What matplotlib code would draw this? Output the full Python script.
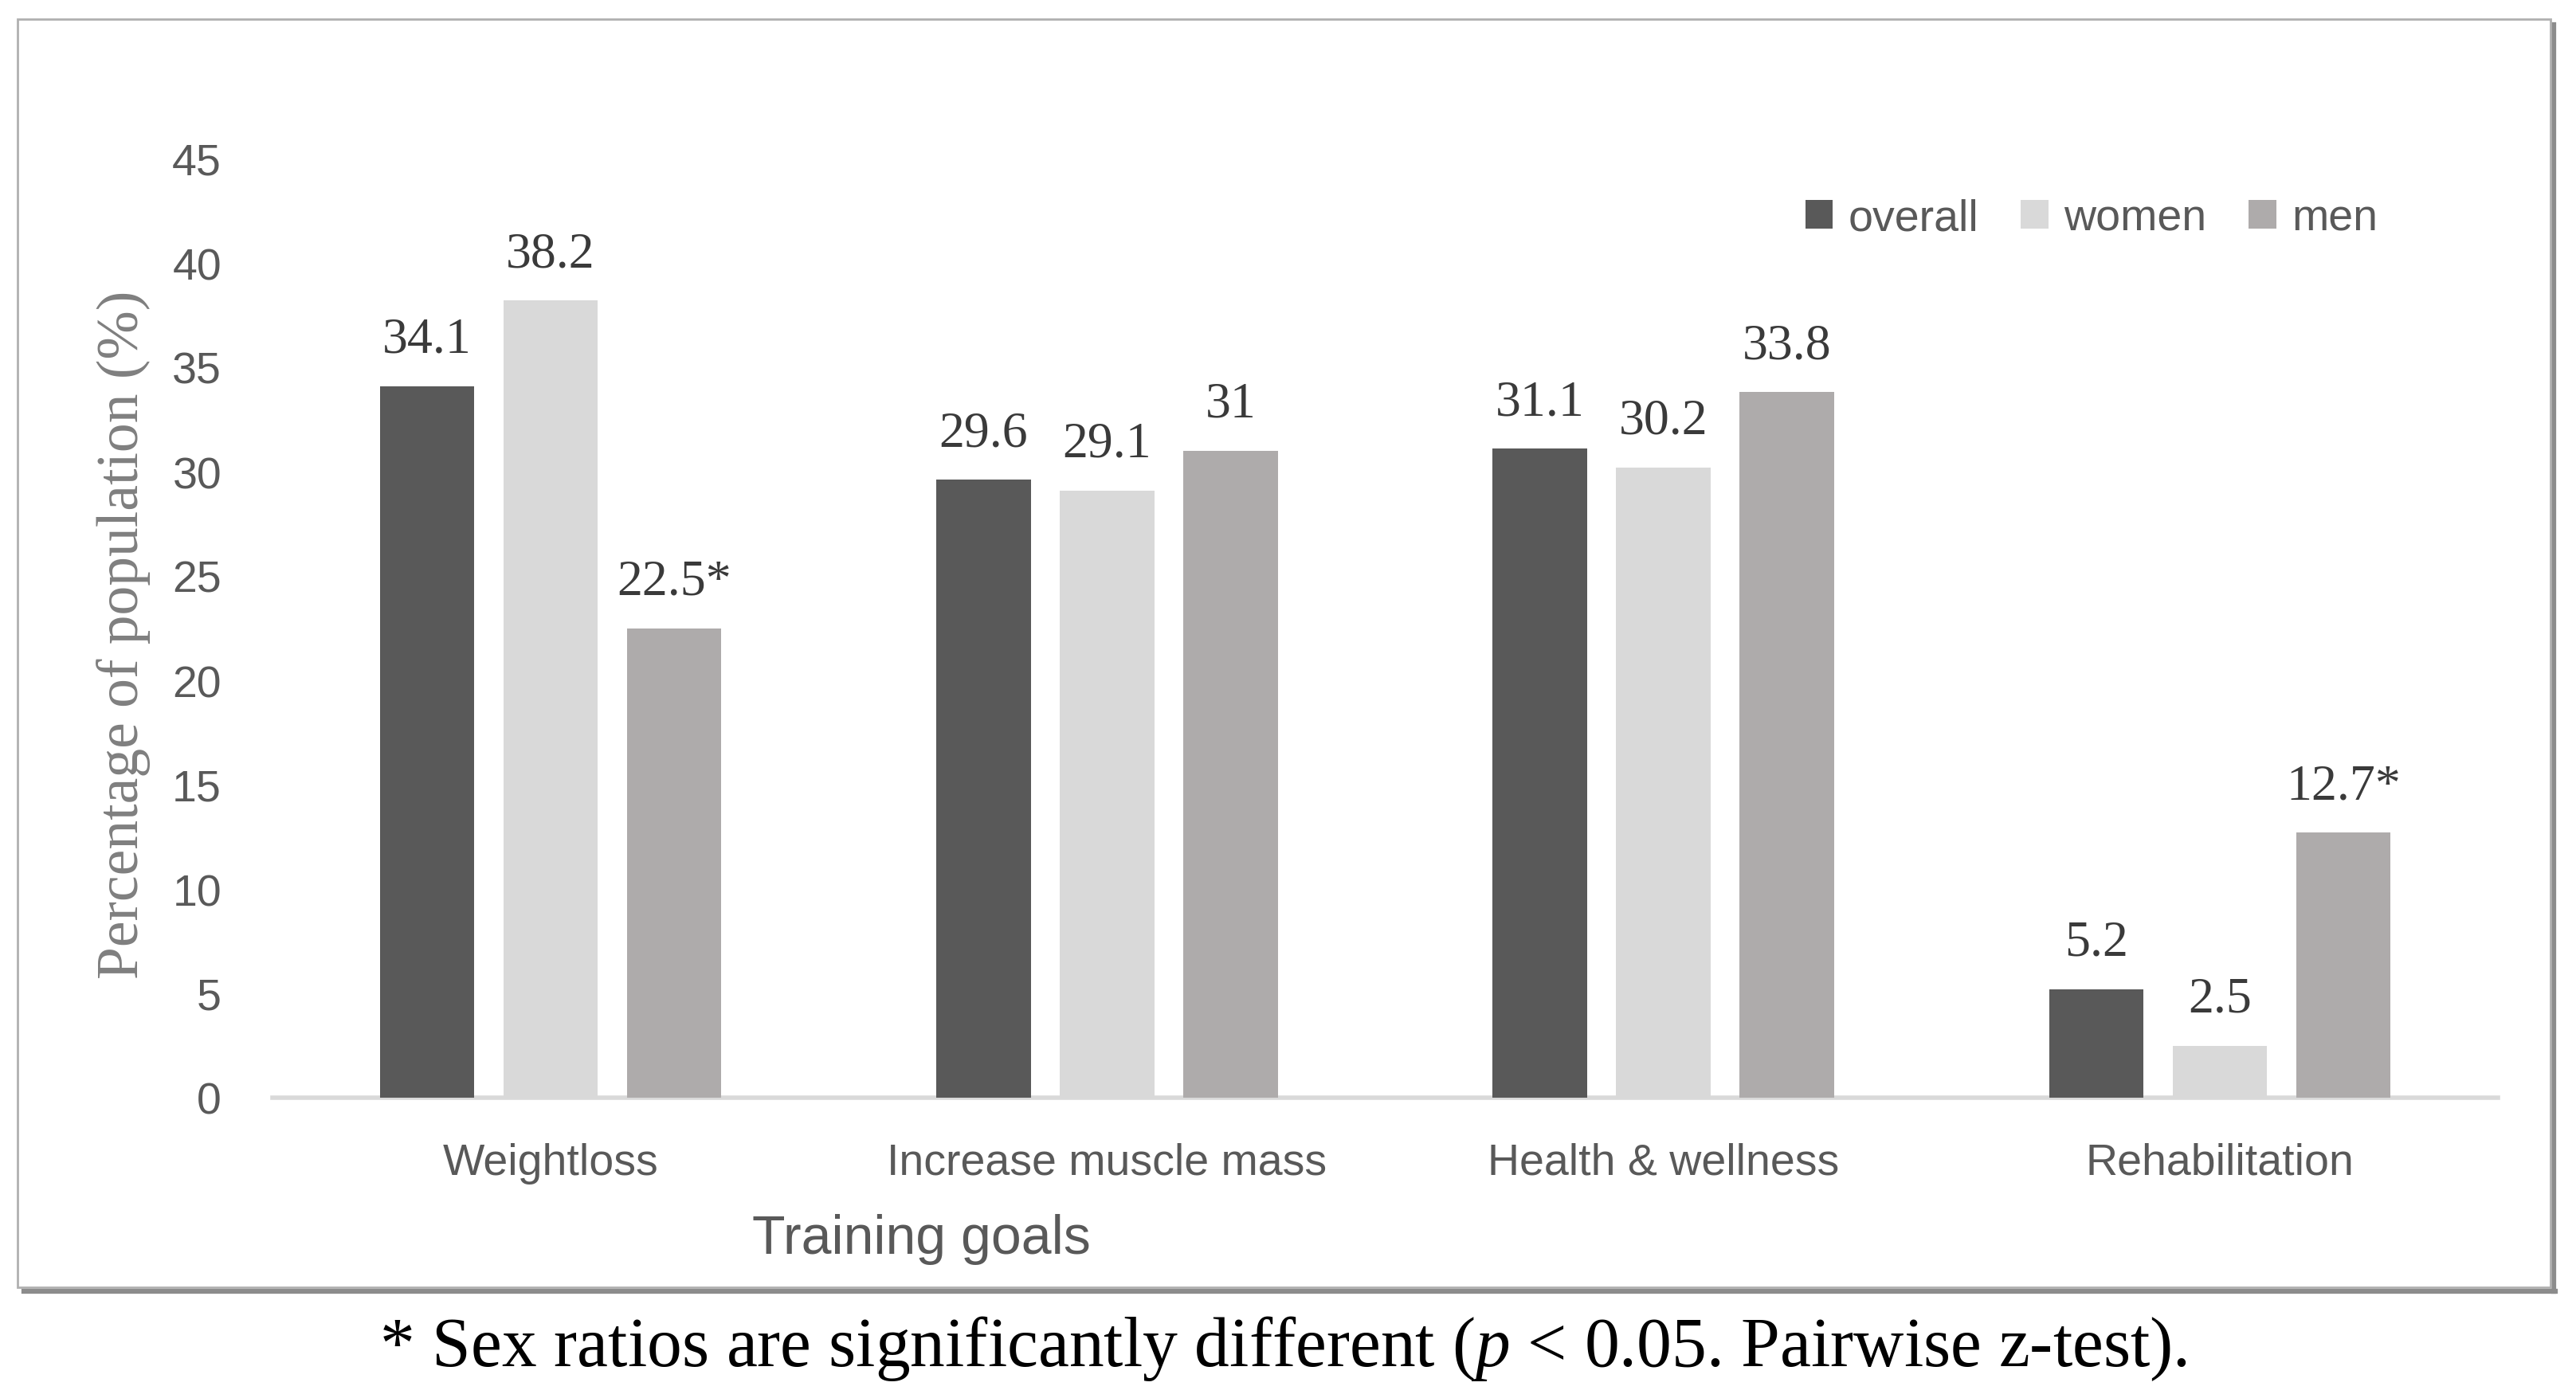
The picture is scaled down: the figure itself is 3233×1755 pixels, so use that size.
"""Training goals by sex - grouped bar chart."""

import matplotlib.pyplot as plt
import numpy as np
from matplotlib.lines import Line2D
from matplotlib.patches import Rectangle

plt.rcParams["font.family"] = ["Liberation Sans", "DejaVu Sans"]
plt.rcParams["mathtext.fontset"] = "custom"
plt.rcParams["mathtext.rm"] = "Liberation Serif"
plt.rcParams["mathtext.it"] = "Liberation Serif:italic"

categories = ["Weightloss", "Increase muscle mass", "Health & wellness", "Rehabilitation"]
series_names = ["overall", "women", "men"]
overall = [34.1, 29.6, 31.1, 5.2]
women = [38.2, 29.1, 30.2, 2.5]
men = [22.5, 31.0, 33.8, 12.7]
men_significant = [True, False, False, True]
y_ticks = [0, 5, 10, 15, 20, 25, 30, 35, 40, 45]

colors = ["#595959", "#d9d9d9", "#aeabab"]
text_gray = "#595959"

W, H, DPI = 3233, 1756, 100
fig = plt.figure(figsize=(W / DPI, H / DPI), dpi=DPI)
fig.patch.set_facecolor("white")


def fx(px):
    return px / W


def fy(py):
    return 1 - py / H


# frame with a drop shadow (kept behind the axes)
fig.add_artist(Line2D([fx(30), fx(3207)], [fy(1622), fy(1622)], color="#8c8c8c", lw=4.5,
                      transform=fig.transFigure, zorder=-3))
fig.add_artist(Line2D([fx(3205), fx(3205)], [fy(32), fy(1622)], color="#8c8c8c", lw=4.5,
                      transform=fig.transFigure, zorder=-3))
fig.add_artist(Rectangle((fx(22), fy(1617)), fx(3201) - fx(22), fy(25) - fy(1617),
                         transform=fig.transFigure, facecolor="white",
                         edgecolor="#b0b0b0", lw=2, zorder=-2))

ax = fig.add_axes([fx(342), fy(1379), fx(3135) - fx(342), fy(200) - fy(1379)])
ax.set_facecolor("none")

x = np.arange(len(categories))
step = 0.222
width = 0.17
all_series = [overall, women, men]

for i, (name, vals) in enumerate(zip(series_names, all_series)):
    pos = x + (i - 1) * step
    ax.bar(pos, vals, width, color=colors[i], label=name, zorder=3)
    for j, (p, v) in enumerate(zip(pos, vals)):
        lbl = f"{v:g}"
        if i == 2 and men_significant[j]:
            lbl += "*"
        ax.annotate(lbl, xy=(p, v), xytext=(0, 31), textcoords="offset points",
                    ha="center", va="baseline", fontsize=46,
                    family="Liberation Serif", color="#3a3a3a")

ax.set_xlim(-0.5, len(categories) - 0.5)
ax.set_ylim(0, 45)
ax.set_yticks(y_ticks)
ax.set_xticks(x)
ax.set_xticklabels(categories)

for s in ["top", "right", "left"]:
    ax.spines[s].set_visible(False)
ax.spines["bottom"].set_color("#d9d9d9")
ax.spines["bottom"].set_linewidth(4)
ax.tick_params(axis="y", length=0, pad=46, labelsize=40, labelcolor=text_gray)
ax.tick_params(axis="x", length=0, pad=40, labelsize=40, labelcolor=text_gray)

fig.text(fx(155), fy(797), "Percentage of population (%)", rotation=90,
         ha="center", va="center", fontsize=53, family="Liberation Serif",
         color="#7f7f7f")
fig.text(fx(1156), fy(1556), "Training goals", ha="center", va="center",
         fontsize=49, color=text_gray)

leg = fig.legend(loc="center left", bbox_to_anchor=(fx(2266), fy(276)),
                 bbox_transform=fig.transFigure, ncol=3, frameon=False,
                 fontsize=40, handlelength=0.62, handleheight=0.62,
                 handletextpad=0.35, columnspacing=0.95, borderpad=0,
                 borderaxespad=0)
for t in leg.get_texts():
    t.set_color(text_gray)

fig.text(0.498, fy(1715),
         r"* Sex ratios are significantly different ($\mathit{p}$ < 0.05. Pairwise z-test).",
         ha="center", va="baseline", fontsize=63, family="Liberation Serif",
         color="black")

fig.savefig("out.png", dpi=DPI, facecolor="white")
